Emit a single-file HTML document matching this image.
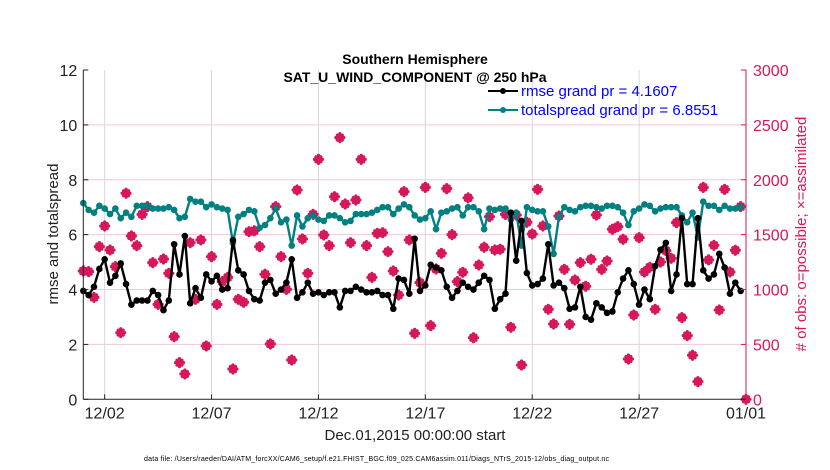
<!DOCTYPE html>
<html><head><meta charset="utf-8"><style>
body{margin:0;background:#fff;}
svg{display:block;font-family:"Liberation Sans",sans-serif;}
</style></head><body>
<svg id="chart" width="830" height="470" viewBox="0 0 830 470">
<g id="grid"></g>
<g id="obs"></g>
<g id="spread"></g>
<g id="rmse"></g>
<g id="axes"></g>
<text x="415" y="64" text-anchor="middle" font-size="14" font-weight="bold" fill="#000">Southern Hemisphere</text>
<text x="415" y="82" text-anchor="middle" font-size="14" font-weight="bold" fill="#000">SAT_U_WIND_COMPONENT @ 250 hPa</text>
<g>
<line x1="488" y1="91" x2="518" y2="91" stroke="#000" stroke-width="2"/>
<circle cx="503" cy="91" r="3" fill="#000"/>
<text x="521" y="96" font-size="15" fill="#0000ff">rmse grand pr = 4.1607</text>
<line x1="488" y1="110" x2="518" y2="110" stroke="#008080" stroke-width="2"/>
<circle cx="503" cy="110" r="3" fill="#008080"/>
<text x="521" y="115" font-size="15" fill="#0000ff">totalspread grand pr = 6.8551</text>
</g>
<text transform="translate(58,234) rotate(-90)" text-anchor="middle" font-size="15" fill="#222">rmse and totalspread</text>
<text transform="translate(806,234) rotate(-90)" text-anchor="middle" font-size="15" fill="#d6175b"># of obs: o=possible; ×=assimilated</text>
<text x="415" y="440" text-anchor="middle" font-size="15" fill="#222">Dec.01,2015 00:00:00 start</text>
<text x="144" y="461" font-size="7" fill="#000" textLength="465">data file: /Users/raeder/DAI/ATM_forcXX/CAM6_setup/f.e21.FHIST_BGC.f09_025.CAM6assim.011/Diags_NTrS_2015-12/obs_diag_output.nc</text>
</svg>
<script>
const rmse=[3.95,3.8,4.1,4.75,5.1,4.25,4.5,4.95,4.2,3.45,3.6,3.6,3.6,3.95,3.8,3.25,3.6,5.65,4.55,5.95,3.5,4.05,3.7,4.55,4.3,4.5,4.0,4.05,5.8,4.7,4.55,3.95,3.65,3.6,4.25,4.35,3.85,4.0,4.25,5.1,3.7,3.9,4.25,3.85,3.9,3.8,3.9,3.9,3.35,3.95,3.95,4.1,4.0,3.9,3.9,3.95,3.8,3.8,3.3,4.4,4.35,3.85,5.85,3.95,4.15,4.9,4.8,4.7,4.1,3.7,3.95,4.25,4.1,4.0,4.25,4.5,4.35,3.3,3.65,3.85,6.8,5.05,6.5,4.6,4.15,4.2,4.4,5.65,4.15,4.25,4.05,3.3,3.35,4.1,3.0,2.9,3.5,3.35,3.15,3.2,3.9,4.4,4.7,4.2,3.45,4.0,3.65,4.85,5.45,5.7,3.95,4.55,6.6,4.2,4.2,6.6,4.7,4.4,4.55,5.3,4.8,3.85,4.25,3.95];
const spread=[7.15,6.9,6.8,7.05,6.95,6.75,6.95,6.6,6.8,6.65,7.05,7.05,7.05,6.95,6.95,6.95,7.0,6.9,6.6,6.65,7.3,7.2,7.2,7.0,7.1,7.0,6.95,6.9,5.7,6.65,6.75,6.9,6.85,6.25,6.35,6.6,6.95,6.45,6.55,5.6,6.7,6.3,6.6,6.7,6.55,6.5,6.7,6.7,6.6,6.45,6.5,6.75,6.75,6.75,6.8,6.9,7.0,7.0,6.75,6.95,7.1,7.0,6.7,6.55,6.6,6.85,6.2,6.8,6.85,6.95,7.0,6.7,7.0,7.0,6.85,6.2,6.95,6.9,6.95,6.95,6.55,6.8,5.6,7.0,6.9,6.85,6.85,6.3,5.3,6.65,7.0,6.9,6.85,7.0,7.05,7.05,7.0,6.95,7.05,7.05,7.0,6.8,6.35,6.85,6.95,7.1,7.05,6.85,6.95,7.0,7.0,7.0,6.7,6.45,6.8,5.9,7.2,7.05,7.05,6.9,7.05,6.95,6.95,7.0];
const obs=[1169,1163,929,1391,1579,1360,1209,607,1877,1488,1400,1685,1755,1245,865,1278,1148,571,334,231,1427,911,1452,486,1300,865,1072,1111,276,911,884,1527,1536,1391,1139,504,1755,1300,1002,358,1907,1461,1148,1685,2186,1497,1400,1846,2384,1779,1427,1816,2186,1400,1111,1512,1518,1345,1169,950,1892,1452,601,1063,1931,671,1187,1330,1919,1500,1072,1157,1835,561,1224,1385,1664,1360,1367,1685,656,1679,313,1613,1506,1913,1579,820,686,1670,1184,683,1087,1245,1030,1276,1679,1184,1260,1549,1573,1458,367,768,1473,1160,1203,820,1251,1355,1285,1610,744,580,401,161,1931,1270,1403,814,1913,1160,1358,1755,0];
const xTickLabels=["12/02","12/07","12/12","12/17","12/22","12/27","01/01"];
const xTickDays=[1,6,11,16,21,26,31];
const yLeftTicks=[0,2,4,6,8,10,12];
const yRightTicks=[0,500,1000,1500,2000,2500,3000];

const L=83.3,R=746,T=70,B=399.3;
const x=d=>L+(d/31)*(R-L);
const yl=v=>B-(v/12)*(B-T);
const yr=v=>B-(v/3000)*(B-T);
const NS="http://www.w3.org/2000/svg";
function mk(tag,parent,attrs){const e=document.createElementNS(NS,tag);for(const k in attrs)e.setAttribute(k,attrs[k]);parent.appendChild(e);return e;}
const grid=document.getElementById('grid'),axes=document.getElementById('axes');
yLeftTicks.forEach(v=>{if(v>0&&v<12){const g=mk('line',grid,{x1:L,x2:R,y1:yl(v),y2:yl(v),stroke:'#f5c6d6','stroke-width':1});

}
const t=mk('line',axes,{x1:L,x2:L+5,y1:yl(v),y2:yl(v),stroke:'#222'});


const tx=mk('text',axes,{x:L-6,y:yl(v)+6,'text-anchor':'end','font-size':16,fill:'#222'});tx.textContent=v;

});
yRightTicks.forEach(v=>{const t=mk('line',axes,{x1:R-5,x2:R,y1:yr(v),y2:yr(v),stroke:'#d6175b'});


const tx=mk('text',axes,{x:R+7,y:yr(v)+6,'font-size':16,fill:'#d6175b'});tx.textContent=v;

});
xTickDays.forEach((d,i)=>{const g=mk('line',grid,{x1:x(d),x2:x(d),y1:T,y2:B,stroke:'#d8d8d8','stroke-width':1});


const t=mk('line',axes,{x1:x(d),x2:x(d),y1:B,y2:B-5,stroke:'#222'});


const tx=mk('text',axes,{x:x(d),y:B+19,'text-anchor':'middle','font-size':16,fill:'#222'});tx.textContent=xTickLabels[i];

});
const al=mk('line',axes,{x1:L,x2:L,y1:T,y2:B,stroke:'#222','stroke-width':1});


const ab=mk('line',axes,{x1:L,x2:R,y1:B,y2:B,stroke:'#222','stroke-width':1});


const ar=mk('line',axes,{x1:R,x2:R,y1:T,y2:B,stroke:'#d6175b','stroke-width':1});



const og=document.getElementById('obs');
obs.forEach((v,i)=>{const cx=x(i*0.25),cy=yr(v);
const p=mk('path',og,{d:`M${cx-4},${cy}L${cx+4},${cy}M${cx},${cy-4}L${cx},${cy+4}M${cx-2.5},${cy-2.5}L${cx+2.5},${cy+2.5}M${cx-2.5},${cy+2.5}L${cx+2.5},${cy-2.5}`,stroke:'#d6175b','stroke-width':3.2,'stroke-linecap':'round'});

});
function series(gid,data,color,name){const g=document.getElementById(gid);
const pts=data.map((v,i)=>x(i*0.25).toFixed(2)+','+yl(v).toFixed(2)).join(' ');
const pl=mk('polyline',g,{points:pts,fill:'none',stroke:color,'stroke-width':2.4,'stroke-linejoin':'round'});


data.forEach((v,i)=>{const c=mk('circle',g,{cx:x(i*0.25),cy:yl(v),r:3.3,fill:color});

});}
series('spread',spread,'#008080','spread');
series('rmse',rmse,'#000','rmse');
</script>
</body></html>
